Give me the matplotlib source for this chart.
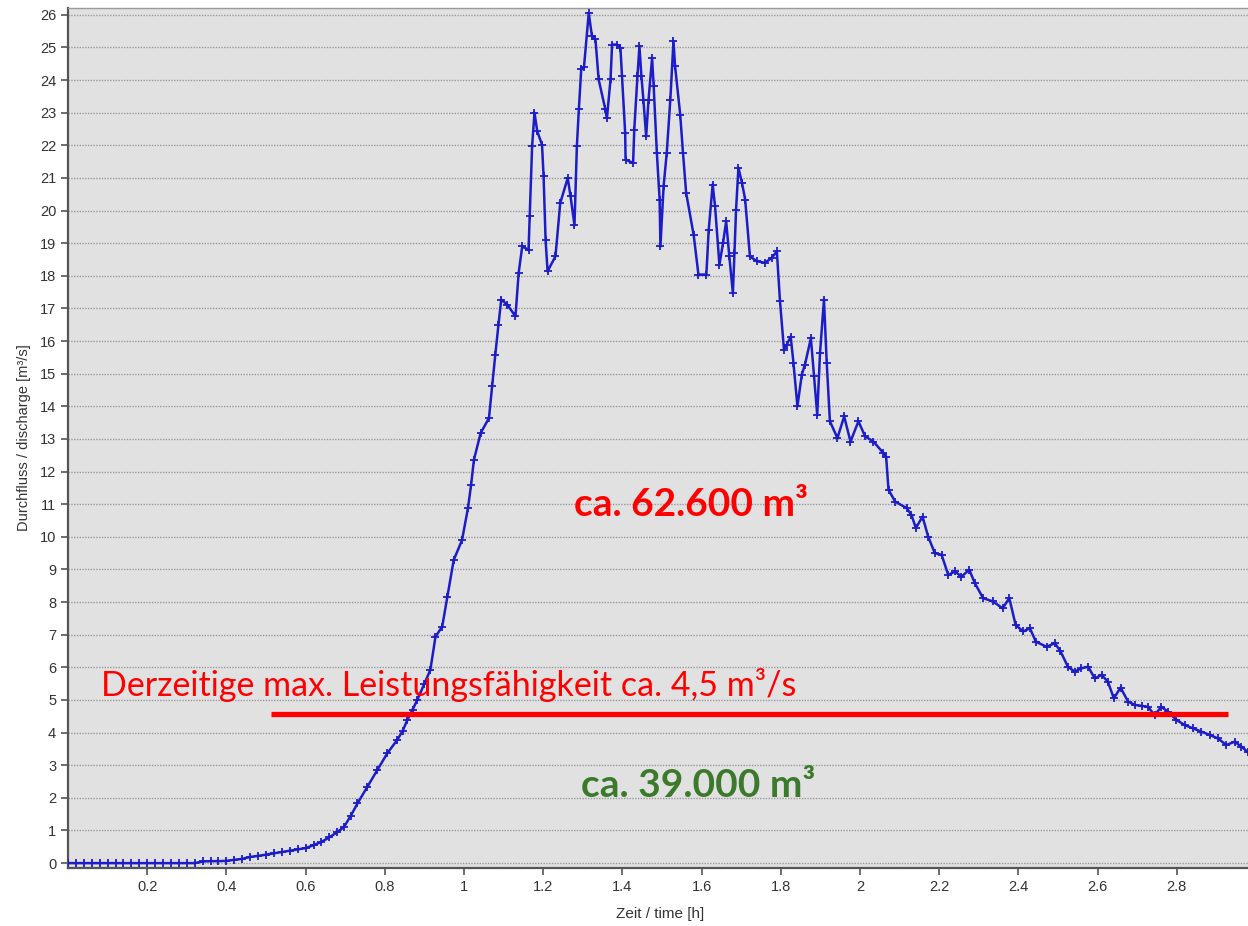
import numpy as np
import matplotlib
matplotlib.use('Agg')
import matplotlib.pyplot as plt

# hydrograph: time [h], discharge [m3/s]
t_h = [0.00, 0.02, 0.04, 0.06, 0.08, 0.10, 0.12, 0.14, 0.16, 0.18, 0.20, 0.22, 0.24,
       0.26, 0.28, 0.30, 0.32, 0.34, 0.36, 0.38, 0.40, 0.42, 0.44, 0.46, 0.48, 0.50,
       0.52, 0.54, 0.56, 0.58, 0.60, 0.62, 0.64, 0.66, 0.68, 0.697,
       0.714, 0.731, 0.756, 0.781, 0.806, 0.831, 0.845, 0.857, 0.870, 0.882, 0.900,
       0.915, 0.928, 0.945, 0.958, 0.974, 0.995, 1.010, 1.018, 1.025, 1.042, 1.063,
       1.071, 1.079, 1.087, 1.094, 1.109, 1.130, 1.138, 1.147, 1.163, 1.166, 1.172,
       1.178, 1.185, 1.197, 1.201, 1.206, 1.211, 1.231, 1.243, 1.262, 1.269, 1.279,
       1.285, 1.290, 1.296, 1.303, 1.315, 1.323, 1.332, 1.340, 1.357, 1.361, 1.370,
       1.374, 1.386, 1.395, 1.399, 1.407, 1.408, 1.427, 1.430, 1.438, 1.443, 1.448,
       1.453, 1.460, 1.466, 1.475, 1.479, 1.487, 1.494, 1.496, 1.504, 1.512, 1.521,
       1.529, 1.533, 1.546, 1.553, 1.561, 1.580, 1.592, 1.612, 1.618, 1.628, 1.634,
       1.645, 1.654, 1.662, 1.670, 1.679, 1.683, 1.687, 1.693, 1.702, 1.710, 1.722,
       1.739, 1.760, 1.777, 1.790, 1.798, 1.808, 1.815, 1.825, 1.832, 1.842, 1.853,
       1.861, 1.876, 1.884, 1.892, 1.899, 1.909, 1.916, 1.924, 1.943, 1.960, 1.976,
       1.996, 2.013, 2.034, 2.059, 2.066, 2.072, 2.089, 2.118, 2.130, 2.141, 2.158,
       2.172, 2.189, 2.206, 2.223, 2.240, 2.256, 2.276, 2.290, 2.311, 2.336, 2.360,
       2.377, 2.393, 2.412, 2.429, 2.444, 2.471, 2.492, 2.506, 2.525, 2.542, 2.559,
       2.576, 2.593, 2.610, 2.626, 2.641, 2.658, 2.677, 2.694, 2.711, 2.727, 2.744,
       2.761, 2.778, 2.799, 2.820, 2.841, 2.862, 2.883, 2.904, 2.925, 2.946, 2.963,
       2.979, 3.000]
q = [0.0, 0.0, 0.0, 0.0, 0.0, 0.0, 0.0, 0.0, 0.0, 0.0, 0.0, 0.0, 0.0,
     0.0, 0.0, 0.0, 0.0, 0.05, 0.06, 0.06, 0.07, 0.10, 0.13, 0.19, 0.22, 0.26,
     0.30, 0.34, 0.38, 0.42, 0.46, 0.55, 0.65, 0.79, 0.95, 1.11,
     1.45, 1.83, 2.34, 2.85, 3.36, 3.77, 4.05, 4.39, 4.70, 5.00, 5.50,
     5.92, 6.94, 7.25, 8.17, 9.29, 9.90, 10.88, 11.60, 12.36, 13.18, 13.64,
     14.61, 15.58, 16.50, 17.27, 17.12, 16.76, 18.09, 18.90, 18.80, 19.83, 21.97,
     23.00, 22.43, 22.02, 21.05, 19.11, 18.14, 18.60, 20.23, 21.00, 20.44, 19.55,
     21.97, 23.10, 24.33, 24.40, 26.06, 25.35, 25.25, 24.02, 23.10, 22.84, 24.02,
     25.09, 25.09, 24.99, 24.12, 22.38, 21.56, 21.46, 22.48, 24.12, 25.04, 24.12,
     23.40, 22.28, 23.40, 24.68, 23.81, 21.77, 20.34, 18.90, 20.74, 21.77, 23.40,
     25.19, 24.43, 22.94, 21.77, 20.54, 19.25, 18.04, 18.04, 19.42, 20.80, 20.13,
     18.34, 19.00, 19.67, 18.60, 17.47, 18.70, 20.03, 21.31, 20.85, 20.34, 18.60,
     18.45, 18.40, 18.55, 18.75, 17.22, 15.74, 15.89, 16.14, 15.33, 14.00, 14.97,
     15.28, 16.09, 14.92, 13.74, 15.63, 17.27, 15.33, 13.54, 13.03, 13.69, 12.92,
     13.54, 13.08, 12.92, 12.57, 12.46, 11.44, 11.08, 10.88, 10.67, 10.27, 10.62,
     10.01, 9.50, 9.45, 8.83, 8.94, 8.78, 8.99, 8.58, 8.12, 8.02, 7.81,
     8.12, 7.30, 7.10, 7.20, 6.79, 6.63, 6.74, 6.50, 6.02, 5.87, 5.97,
     6.02, 5.66, 5.77, 5.56, 5.05, 5.38, 4.95, 4.85, 4.82, 4.79, 4.54,
     4.79, 4.64, 4.39, 4.23, 4.13, 4.03, 3.93, 3.82, 3.62, 3.72, 3.57,
     3.41, 3.30]

capacity = 4.56          # current max capacity line
capacity_span = [0.512, 2.93]
y_ticks = list(range(0, 27))
x_ticks = [0.2, 0.4, 0.6, 0.8, 1.0, 1.2, 1.4, 1.6, 1.8, 2.0, 2.2, 2.4, 2.6, 2.8, 3.0]
x_tick_labels = ['0.2', '0.4', '0.6', '0.8', '1', '1.2', '1.4', '1.6', '1.8', '2',
                 '2.2', '2.4', '2.6', '2.8', '3']

fig = plt.figure(figsize=(12.48, 9.26), dpi=100)
fig.patch.set_facecolor('white')

# axes run a little past the right edge, like the cropped screenshot
ax = fig.add_axes([68 / 1248, 58 / 926, 1188 / 1248, 860 / 926])
ax.set_facecolor('#e1e1e1')

ax.set_xlim(0, 3.0)
ax.set_ylim(-0.15, 26.21)
ax.set_yticks(y_ticks)
ax.set_xticks(x_ticks)
ax.set_xticklabels(x_tick_labels)

ax.grid(axis='y', color='#9a9a9a', linestyle=(0, (1, 1)), linewidth=1.0)
ax.set_axisbelow(True)

for side in ['left', 'bottom']:
    ax.spines[side].set_color('#555555')
    ax.spines[side].set_linewidth(1.6)
ax.spines['top'].set_color('#9a9a9a')
ax.spines['top'].set_linewidth(1.0)
ax.spines['right'].set_visible(False)

ax.tick_params(axis='both', colors='#555555', labelcolor='#333333', labelsize=10.5,
               length=5, width=1.2, direction='out')
for lbl in ax.get_xticklabels() + ax.get_yticklabels():
    lbl.set_family('Liberation Sans')

ax.plot(t_h, q, color='#1c1cc8', linewidth=1.8, marker='+', markersize=6,
        markeredgewidth=1.3, zorder=3)

ax.hlines(capacity, capacity_span[0], capacity_span[1], color='#ff0000',
          linewidth=3.8, zorder=4)

ax.text(0.083, 5.12, 'Derzeitige max. Leistungsfähigkeit ca. 4,5 m³/s', color='#ff0000',
        fontsize=24.5, family='Lato', ha='left', va='baseline', zorder=5)
ax.text(1.574, 10.98, 'ca. 62.600 m³', color='#ff0000', fontsize=28, family='Lato',
        fontweight='bold', ha='center', va='center', zorder=5)
ax.text(1.592, 2.39, 'ca. 39.000 m³', color='#3c7a2b', fontsize=28, family='Lato',
        fontweight='bold', ha='center', va='center', zorder=5)

ax.set_ylabel('Durchfluss / discharge [m³/s]', fontsize=10.5, color='#333333',
              family='Liberation Sans', labelpad=6)
ax.set_xlabel('Zeit / time [h]', fontsize=11, color='#333333',
              family='Liberation Sans', labelpad=4)
ax.xaxis.set_label_coords((660 - 68) / 1188, -0.045)

fig.savefig('out.png', dpi=100)
